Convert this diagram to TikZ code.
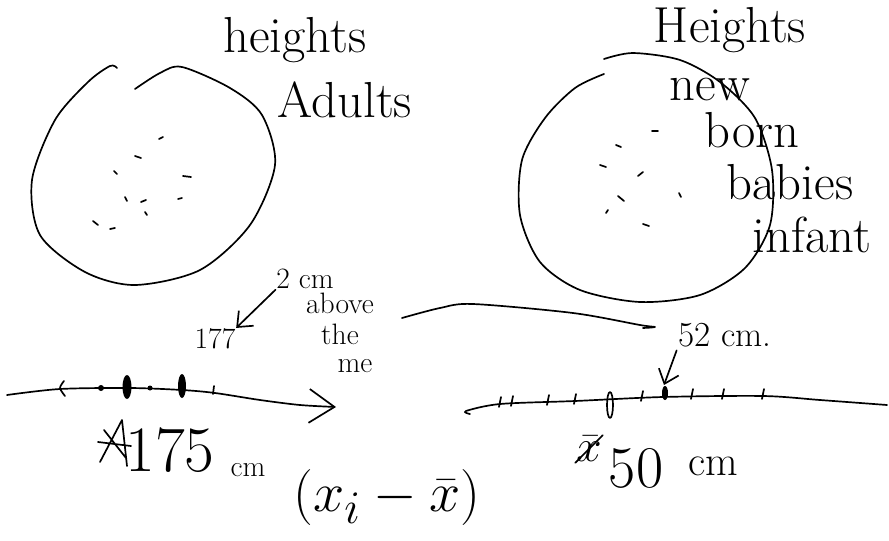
\documentclass[tikz,border=0pt]{standalone}
\usetikzlibrary{arrows.meta}
\begin{document}
\begin{tikzpicture}[x=0.025cm, y=-0.025cm, line width=1.2pt, line cap=round, line join=round,
    >={Straight Barb[length=9pt,width=15pt]},
    hand/.style={font=\fontsize{36}{38}\selectfont, inner sep=0pt},
    note/.style={font=\fontsize{21}{23}\selectfont, inner sep=0pt},
    bighand/.style={font=\fontsize{46}{48}\selectfont, inner sep=0pt},
    mathhand/.style={font=\fontsize{24.88}{26}\selectfont, inner sep=0pt, transform shape}]
    \useasboundingbox (0,0) rectangle (889,540);

    % Left set: adults
    \draw plot[smooth] coordinates {(117,68) (110,66) (88,82) (55,120) (32,180) (40,235)
        (85,272) (135,285) (200,270) (250,225) (275,165) (262,115) (230,88) (182,67) (160,73) (135,89)};
    \foreach \px/\py/\dx/\dy in {159/139/4/-2, 135/156/6/2, 114/171/3/3, 183/176/8/1,
        125/197/2/4, 141/202/5/-2, 178/199/4/-1, 145/212/2/3, 93/221/5/4, 110/229/5/-1}
        \draw (\px,\py) -- ++(\dx,\dy);
    \node[hand] (hleft) at (295,40) {heights};
    \node[hand] (adults) at (345,100) {Adults};

    % Right set: new born babies
    \draw plot[smooth] coordinates {(604,59) (633,53) (680,60) (720,82) (755,118) (772,170)
        (770,225) (745,268) (700,295) (640,302) (580,290) (540,262) (520,215) (522,160)
        (545,118) (575,88) (604,74)};
    \foreach \px/\py/\dx/\dy in {652/131/6/0, 616/145/5/2, 600/165/6/2, 638/176/5/-4,
        618/196/6/5, 679/193/2/4, 606/213/2/-3, 643/224/6/2}
        \draw (\px,\py) -- ++(\dx,\dy);
    \node[hand] (hright) at (730,30) {Heights};
    \node[hand] (new) at (710,90) {new};
    \node[hand] (born) at (752,130) {born};
    \node[hand] (babies) at (790,182) {babies};
    \node[hand] (infant) at (812,235) {infant};

    % Stroke between the two sets
    \draw plot[smooth] coordinates {(402,318) (440,308) (473,304) (573,313) (640,325) (655,327) (643,328)};

    % Left number line
    \draw[-{Straight Barb[length=18pt,width=24pt]}] plot[smooth] coordinates {(7,395) (60,389)
        (130,388) (182,390) (215,393) (260,400) (300,405) (336,407)};
    \draw plot[smooth] coordinates {(64,381) (60,388) (65,396)};
    \fill (101,388) ellipse (3 and 3);
    \fill (127,387) ellipse (4.5 and 12);
    \fill (150,388) circle (2.5);
    \fill (182,386) ellipse (4 and 12);
    \draw (214,386) -- (213,394);
    \node[note] (n177) at (215,339) {177};
    \node[note] (twocm) at (305,279) {2 cm};
    \node[note] (above) at (340,303) {above};
    \node[note] (the) at (340,334) {the};
    \node[note] (me) at (355,366) {me};
    \draw[->] (twocm.south west) -- (n177.north east);
    \node[bighand] (n175) at (170,450) {175};
    \draw (100,462) -- (122,420) -- (127,466) (98,442) -- (131,446) (104,430) -- (126,458);
    \node[note] (cmleft) at (248,470) {cm};
    \node[mathhand, scale=1.6] (dev) at (387,498) {$(x_i - \bar{x})$};

    % Right number line
    \draw plot[smooth] coordinates {(470,414) (466,411) (500,404) (575,401) (663,397)
        (763,396) (820,400) (887,405)};
    \foreach \tx/\ty in {500/404, 512/403, 548/402, 575/401, 642/398, 692/396, 723/396, 763/396}
        \draw (\tx+1,\ty-7) -- (\tx-1,\ty+3);
    \draw (610,405) ellipse (3 and 13);
    \fill (665,393) ellipse (3 and 7);
    \coordinate (tick52) at (664,385);
    \node[note, font=\fontsize{25}{27}\selectfont] (n52) at (725,335) {52 cm.};
    \draw[->, shorten <=2pt] (n52.south west) -- (tick52);
    \node[mathhand, scale=1.3] (xbar) at (589,449) {$\bar{x}$};
    \draw (xbar.south west) -- (xbar.north east);
    \node[bighand, font=\fontsize{42}{44}\selectfont] (n50) at (636,468) {50};
    \node[hand, font=\fontsize{30}{32}\selectfont] (cmright) at (713,466) {cm};
\end{tikzpicture}
\end{document}
